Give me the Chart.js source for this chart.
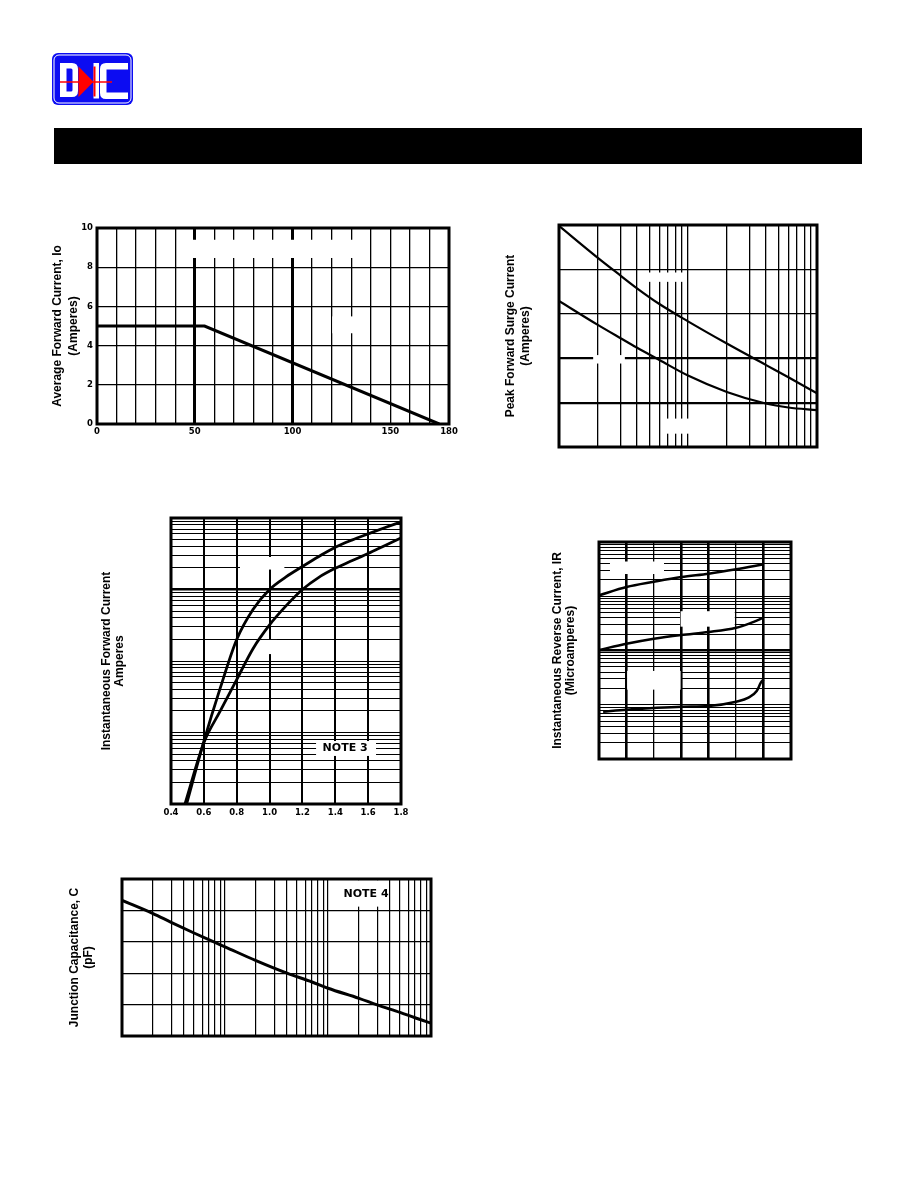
<!DOCTYPE html>
<html><head><meta charset="utf-8">
<script src="https://cdn.jsdelivr.net/npm/chart.js@4.4.1/dist/chart.umd.min.js"></script>
<style>
html,body{margin:0;padding:0;background:#fff;}
body{width:918px;height:1188px;position:relative;overflow:hidden;}
canvas{position:absolute;}
#bar{position:absolute;left:54px;top:128px;width:808px;height:36px;background:#000;}
#logo{position:absolute;left:50px;top:50px;}
</style></head><body>
<svg id="logo" width="90" height="62" viewBox="0 0 90 62">
 <rect x="2" y="3" width="81" height="52" rx="6" fill="#0c0cf2"/>
 <rect x="4" y="5" width="77" height="48" rx="5" fill="none" stroke="#fff" stroke-width="1"/>
 <path d="M10 13 H22 Q28 13 28 19 V41 Q28 47 22 47 H10 Z M16.5 18.5 V41.5 H21 Q22.5 41.5 22.5 40 V20 Q22.5 18.5 21 18.5 Z" fill="#fff" fill-rule="evenodd"/>
 <rect x="43.5" y="13" width="5.5" height="35.5" fill="#fff"/>
 <path d="M50 19 Q50 13 56 13 H78 V19.5 H56.5 V42.5 H78 V49 H56 Q50 49 50 43 Z" fill="#fff"/>
 <line x1="10" y1="32" x2="62" y2="32" stroke="#ff0000" stroke-width="1.6"/>
 <path d="M28.5 16.5 L43.5 31.7 L28.5 47 Z" fill="#ff0000"/>
 <rect x="43.5" y="16.5" width="2" height="30" fill="#ff0000"/>
</svg>
<div id="bar"></div>
<canvas id="c1" width="413" height="224" style="left:50px;top:218px"></canvas>
<canvas id="c2" width="323" height="234" style="left:500px;top:219px"></canvas>
<canvas id="c3" width="320" height="314" style="left:95px;top:508px"></canvas>
<canvas id="c4" width="252" height="229" style="left:545px;top:536px"></canvas>
<canvas id="c5" width="377" height="169" style="left:60px;top:873px"></canvas>
<script>
// ---------- DATA ----------
// Chart 1: forward current derating
const c1Temp = [0, 55, 175];
const c1Current = [5, 5, 0];
const c1XLabels = [0, 50, 100, 150, 180];
const c1YLabels = [0, 2, 4, 6, 8, 10];
const c1Title = ['Average Forward Current, Io', '(Amperes)'];

// Chart 2: peak forward surge current vs cycles
const c2UpperX = [1, 2, 3, 4, 6, 10, 20, 40, 60, 100];
const c2Upper = [4.98, 4.26, 3.86, 3.58, 3.22, 2.83, 2.33, 1.85, 1.57, 1.21];
const c2LowerX = [1, 2, 3, 4, 6, 10, 20, 40, 60, 100];
const c2Lower = [3.29, 2.75, 2.45, 2.24, 1.96, 1.61, 1.24, 0.98, 0.89, 0.83];
const c2Title = ['Peak Forward Surge Current', '(Amperes)'];

// Chart 3: forward characteristics
const c3VoltUpper = [0.495, 0.6, 0.7, 0.8, 0.9, 1.0, 1.1, 1.2, 1.3, 1.4, 1.5, 1.6, 1.7, 1.8];
const c3Upper = [0.01, 0.075, 0.42, 2.0, 5.3, 10, 15, 21, 29, 39, 49, 60, 73, 88];
const c3VoltLower = [0.485, 0.6, 0.7, 0.8, 0.9, 1.0, 1.1, 1.2, 1.3, 1.4, 1.5, 1.6, 1.7, 1.8];
const c3Lower = [0.01, 0.072, 0.2, 0.55, 1.5, 3.2, 5.9, 10, 14.8, 19.8, 25.2, 31.8, 41, 52.6];
const c3XLabels = [0.4, 0.6, 0.8, 1.0, 1.2, 1.4, 1.6, 1.8];
const c3Title = ['Instantaneous Forward Current', 'Amperes'];

// Chart 4: reverse characteristics
const c4UpperX = [0, 20, 40, 60, 80, 100, 120];
const c4Upper = [10.4, 14.8, 18.5, 22.6, 26.1, 31.4, 38.8];
const c4MidX = [0, 20, 40, 60, 80, 100, 110, 120];
const c4Mid = [1.02, 1.33, 1.65, 1.93, 2.19, 2.63, 3.17, 4.03];
const c4LowX = [3, 20, 40, 60, 80, 100, 109, 115, 118, 120];
const c4Low = [0.0745, 0.081, 0.087, 0.092, 0.095, 0.114, 0.135, 0.179, 0.255, 0.294];
const c4Title = ['Instantaneous Reverse Current, IR', '(Microamperes)'];

// Chart 5: junction capacitance
const c5Volt = [1, 2, 3, 5, 8, 10, 20, 40, 70, 100, 200, 300, 500, 700, 1000];
const c5Cap = [4.32, 3.9, 3.62, 3.28, 2.98, 2.84, 2.40, 2.0, 1.72, 1.52, 1.2, 0.99, 0.75, 0.58, 0.41];
const c5Title = ['Junction Capacitance, C', '(pF)'];

// ---------- HELPERS ----------
function stepList(min, max, step) {
  const out = [];
  for (let i = 0; min + i * step <= max + 1e-9; i++) out.push(+(min + i * step).toFixed(6));
  return out;
}
function logGrid(min, max) {
  const out = [];
  for (let e = Math.floor(Math.log10(min)); Math.pow(10, e) < max - 1e-12; e++) {
    for (let k = 1; k < 10; k++) {
      const v = +(k * Math.pow(10, e)).toPrecision(6);
      if (v >= min - 1e-12 && v <= max + 1e-12) out.push(v);
    }
  }
  if (out[out.length - 1] < max) out.push(max);
  return out;
}
const near = (a, b) => Math.abs(a - b) < 1e-9 * Math.max(1, Math.abs(b));
const FONT_T = {family: '"Liberation Sans", Arial, sans-serif', size: 12, weight: 'bold'};
const FONT_K = {family: '"DejaVu Sans", sans-serif', size: 8.5, weight: 'bold'};

function axis(o) {
  return {
    type: o.type, min: o.min, max: o.max, position: o.pos,
    afterBuildTicks: ax => { ax.ticks = o.grid.map(v => ({value: v})); },
    afterFit: o.pos === 'left' ? (s => { s.width = o.size; }) : (s => { s.height = o.size; }),
    grid: {
      color: '#000', drawTicks: false,
      lineWidth: c => (c.tick && (o.thick || []).some(t => near(c.tick.value, t))) ? o.thickW : o.thinW
    },
    border: {display: false},
    ticks: {
      display: !!o.labels, autoSkip: false, maxRotation: 0, minRotation: 0,
      padding: o.pad || 3, color: '#000', font: FONT_K,
      callback: v => {
        if (!o.labels) return '';
        const hit = o.labels.find(l => near(v, l));
        return hit === undefined ? '' : (o.fmt ? o.fmt(hit) : String(hit));
      }
    },
    title: o.title ? {
      display: true, text: o.title, color: '#000',
      font: Object.assign({}, FONT_T, {lineHeight: o.lh / 12}),
      padding: {top: o.tpad, bottom: 0}
    } : {display: false}
  };
}

const sheetPlugin = {
  id: 'sheet',
  beforeDatasetsDraw(chart, args, opts) {
    const {ctx} = chart, x = chart.scales.x, y = chart.scales.y;
    ctx.save();
    ctx.fillStyle = '#fff';
    (opts.boxes || []).forEach(b => {
      const x0 = x.getPixelForValue(b[0]), x1 = x.getPixelForValue(b[1]);
      const y0 = y.getPixelForValue(b[2]), y1 = y.getPixelForValue(b[3]);
      ctx.fillRect(Math.min(x0, x1), Math.min(y0, y1), Math.abs(x1 - x0), Math.abs(y1 - y0));
    });
    ctx.restore();
  },
  afterDatasetsDraw(chart, args, opts) {
    const {ctx, chartArea: a} = chart, x = chart.scales.x, y = chart.scales.y;
    ctx.save();
    ctx.strokeStyle = '#000';
    ctx.lineWidth = opts.frame || 3;
    ctx.strokeRect(a.left, a.top, a.right - a.left, a.bottom - a.top);
    (opts.notes || []).forEach(n => {
      ctx.fillStyle = '#000';
      ctx.font = 'bold 11px "DejaVu Sans", sans-serif';
      ctx.textAlign = 'center';
      ctx.textBaseline = 'middle';
      ctx.fillText(n.text, x.getPixelForValue(n.x), y.getPixelForValue(n.y));
    });
    ctx.restore();
  }
};
Chart.register(sheetPlugin);

function pts(xs, ys) { return xs.map((v, i) => ({x: v, y: ys[i]})); }
function ds(data, w, smooth) {
  return {data, borderColor: '#000', borderWidth: w, pointRadius: 0, fill: false,
          tension: smooth ? 0.4 : 0, cubicInterpolationMode: smooth ? 'monotone' : 'default'};
}
function make(id, datasets, xAx, yAx, pad, sheet) {
  return new Chart(document.getElementById(id), {
    type: 'line',
    data: {datasets},
    options: {
      responsive: false, animation: false,
      layout: {padding: pad},
      scales: {x: xAx, y: yAx},
      plugins: {legend: {display: false}, tooltip: {enabled: false}, sheet}
    }
  });
}

// ---------- CHART 1 ----------
make('c1', [ds(pts(c1Temp, c1Current), 3, false)],
  axis({type: 'linear', min: 0, max: 180, pos: 'bottom', size: 18, grid: stepList(0, 180, 10),
        thick: [50, 100], thickW: 3, thinW: 1.3, labels: c1XLabels, pad: 3}),
  axis({type: 'linear', min: 0, max: 10, pos: 'left', size: 47, grid: stepList(0, 10, 2),
        thick: [], thickW: 1.3, thinW: 1.3, labels: c1YLabels, pad: 4,
        title: c1Title, lh: 15.5, tpad: 0}),
  {left: 0, top: 10, right: 14, bottom: 0},
  {frame: 3, boxes: [[45.2, 134.8, 8.47, 9.4], [120.3, 131, 4.63, 5.49]]});

// ---------- CHART 2 ----------
make('c2', [ds(pts(c2UpperX, c2Upper), 2.2, true), ds(pts(c2LowerX, c2Lower), 2.2, true)],
  axis({type: 'logarithmic', min: 1, max: 100, pos: 'bottom', size: 6, grid: logGrid(1, 100),
        thick: [], thickW: 1.3, thinW: 1.3}),
  axis({type: 'linear', min: 0, max: 5, pos: 'left', size: 59, grid: stepList(0, 5, 1),
        thick: [1, 2], thickW: 2.2, thinW: 1.3, title: c2Title, lh: 15, tpad: 3.5}),
  {left: 0, top: 6, right: 6, bottom: 0},
  {frame: 3, boxes: [[1.84, 3.24, 1.88, 2.07], [4.6, 9.6, 3.72, 3.93], [6.6, 10.4, 0.30, 0.64]]});

// ---------- CHART 3 ----------
make('c3', [ds(pts(c3VoltUpper, c3Upper), 2.8, true), ds(pts(c3VoltLower, c3Lower), 2.8, true)],
  axis({type: 'linear', min: 0.4, max: 1.8, pos: 'bottom', size: 18, grid: stepList(0.4, 1.8, 0.2),
        thick: [], thickW: 2, thinW: 2, labels: c3XLabels, pad: 4, fmt: v => v.toFixed(1)}),
  axis({type: 'logarithmic', min: 0.01, max: 100, pos: 'left', size: 76, grid: logGrid(0.01, 100),
        thick: [10], thickW: 2.6, thinW: 1, title: c3Title, lh: 13, tpad: 5}),
  {left: 0, top: 10, right: 14, bottom: 0},
  {frame: 3,
   boxes: [[0.82, 1.09, 19, 28.5], [0.955, 1.045, 1.25, 1.97], [1.283, 1.648, 0.047, 0.076]],
   notes: [{text: 'NOTE 3', x: 1.46, y: 0.06}]});

// ---------- CHART 4 ----------
make('c4', [ds(pts(c4UpperX, c4Upper), 2.5, true), ds(pts(c4MidX, c4Mid), 2.5, true), ds(pts(c4LowX, c4Low), 2.5, true)],
  axis({type: 'linear', min: 0, max: 140, pos: 'bottom', size: 6, grid: stepList(0, 140, 20),
        thick: [20, 60, 80, 120], thickW: 2.6, thinW: 1.3}),
  axis({type: 'logarithmic', min: 0.01, max: 100, pos: 'left', size: 54, grid: logGrid(0.01, 100),
        thick: [1], thickW: 2.5, thinW: 1, title: c4Title, lh: 13, tpad: 6.5}),
  {left: 0, top: 6, right: 6, bottom: 0},
  {frame: 3, boxes: [[8, 47.4, 25.7, 43.7], [59.5, 99, 2.75, 5.3], [20.5, 59.5, 0.19, 0.42]]});

// ---------- CHART 5 ----------
make('c5', [ds(pts(c5Volt, c5Cap), 3, true)],
  axis({type: 'logarithmic', min: 1, max: 1000, pos: 'bottom', size: 6, grid: logGrid(1, 1000),
        thick: [], thickW: 1.2, thinW: 1.2}),
  axis({type: 'linear', min: 0, max: 5, pos: 'left', size: 62, grid: stepList(0, 5, 1),
        thick: [], thickW: 1.2, thinW: 1.2, title: c5Title, lh: 14, tpad: 8}),
  {left: 0, top: 6, right: 6, bottom: 0},
  {frame: 3, boxes: [[125, 357, 4.12, 4.96]], notes: [{text: 'NOTE 4', x: 234, y: 4.52}]});
</script>
</body></html>
